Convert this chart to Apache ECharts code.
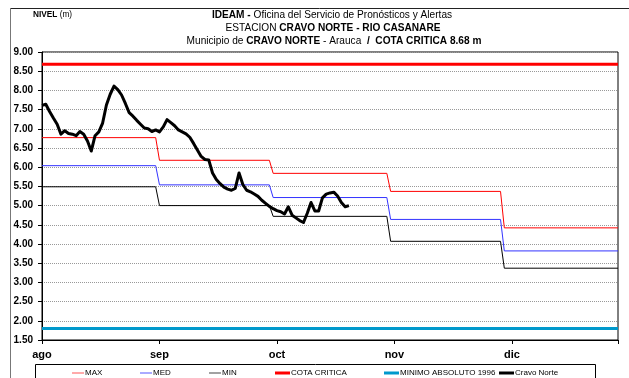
<!DOCTYPE html>
<html>
<head>
<meta charset="utf-8">
<script src="https://cdn.jsdelivr.net/npm/echarts@6/dist/echarts.min.js"></script>
<style>
html,body{margin:0;padding:0;background:#fff;}
#chart{width:629px;height:378px;}
</style>
</head>
<body>
<div id="chart"></div>
<script>
// Month axis: ticks every 31 days counted from 1 August
const monthLabels = ['ago', 'sep', 'oct', 'nov', 'dic'];
const monthStart = [0, 31, 61, 92, 122];
const monthEnd = [30, 60, 91, 121, 152];

// Monthly reference levels (m)
const nivelMax = [6.77, 6.18, 5.84, 5.37, 4.42];
const nivelMed = [6.04, 5.54, 5.21, 4.64, 3.82];
const nivelMin = [5.49, 5.00, 4.72, 4.07, 3.37];

const cotaCritica = 8.68;
const minimoAbsoluto = 1.80;

// Daily level at Cravo Norte, starting 1 August (m)
const cravoNorte = [
  7.61, 7.64, 7.45, 7.28, 7.12, 6.86, 6.95, 6.88, 6.86, 6.82,
  6.93, 6.86, 6.68, 6.42, 6.82, 6.92, 7.15, 7.62, 7.90, 8.11,
  8.02, 7.88, 7.66, 7.42, 7.33, 7.22, 7.12, 7.02, 7.00, 6.93,
  6.97, 6.92, 7.05, 7.24, 7.16, 7.08, 6.97, 6.92, 6.87, 6.78,
  6.62, 6.45, 6.28, 6.20, 6.19, 5.85, 5.68, 5.57, 5.48, 5.43,
  5.40, 5.45, 5.85, 5.55, 5.40, 5.36, 5.30, 5.24, 5.14, 5.06,
  4.98, 4.92, 4.87, 4.84, 4.78, 4.97, 4.75, 4.68, 4.61, 4.56,
  4.80, 5.08, 4.86, 4.86, 5.20, 5.30, 5.33, 5.35, 5.25, 5.08,
  4.97, 5.00
];

const axisDays = [0, 152];

function monthlySteps(levels) {
  const pts = [];
  levels.forEach(function (v, i) {
    pts.push([monthStart[i], v]);
    pts.push([monthEnd[i], v]);
  });
  return pts;
}

const sans = '"Liberation Sans", Arial, sans-serif';

const chart = echarts.init(document.getElementById('chart'), null, {renderer: 'canvas'});

function legendItem(name, left, width, thick, color) {
  return {
    data: [{name: name, icon: 'rect', itemStyle: {color: color, borderWidth: 0}}],
    left: left,
    top: 369,
    itemWidth: width,
    itemHeight: thick,
    selectedMode: false,
    textStyle: {fontFamily: sans, fontSize: 8, color: '#000', padding: [0, 0, 0, -4]},
    padding: 0
  };
}

function titleLine(text, x, y, rich) {
  return {
    type: 'text', x: x, y: y, scaleX: 0.88,
    style: {
      text: text, font: '11.5px ' + sans, fill: '#000',
      align: 'center', verticalAlign: 'middle', rich: rich
    }
  };
}

const boldRich = {b: {fontWeight: 'bold', fontFamily: sans, fontSize: 11.5}};

chart.setOption({
  animation: false,
  backgroundColor: '#fff',
  grid: {
    left: 42, right: 11, top: 52, bottom: 38,
    show: true, borderColor: '#000', borderWidth: 1
  },
  legend: [
    legendItem('MAX', 72, 12, 1, '#ff5555'),
    legendItem('MED', 140, 12, 1, '#5555ff'),
    legendItem('MIN', 209, 12, 1, '#444'),
    legendItem('COTA CRITICA', 275, 15, 3, '#ff0000'),
    legendItem('MINIMO ABSOLUTO 1996', 384, 15, 3, '#0099cc'),
    legendItem('Cravo Norte', 499, 15, 3, '#000')
  ],
  graphic: [
    {type: 'line', shape: {x1: 10, y1: 8.5, x2: 629, y2: 8.5}, style: {stroke: '#222', lineWidth: 1}},
    {type: 'line', shape: {x1: 10.5, y1: 8, x2: 10.5, y2: 378}, style: {stroke: '#777', lineWidth: 1}},
    {type: 'rect', shape: {x: 35.5, y: 364.5, width: 560, height: 30}, style: {fill: 'none', stroke: '#000', lineWidth: 1}},
    {
      type: 'text', x: 33, y: 15, scaleX: 0.92,
      style: {
        text: '{b|NIVEL} (m)', font: '9px ' + sans, fill: '#000',
        verticalAlign: 'middle',
        rich: {b: {fontWeight: 'bold', fontFamily: sans, fontSize: 9}}
      }
    },
    titleLine('{b|IDEAM -} Oficina del Servicio de Pronósticos y Alertas', 332, 15, boldRich),
    titleLine('ESTACION {b|CRAVO NORTE - RIO CASANARE}', 333, 28, boldRich),
    titleLine('Municipio de {b|CRAVO NORTE} - Arauca  {b|/}  {r|COTA CRITICA 8.68 m}', 334, 41, {
      b: {fontWeight: 'bold', fontFamily: sans, fontSize: 11.5},
      r: {fontWeight: 'bold', fontFamily: sans, fontSize: 11.5, color: '#ff0000'}
    })
  ],
  xAxis: {
    type: 'value',
    min: axisDays[0], max: axisDays[1], interval: 31,
    axisLine: {lineStyle: {color: '#000', width: 1}},
    axisTick: {show: true, length: 4, lineStyle: {color: '#000'}},
    axisLabel: {
      margin: 9,
      color: '#000', fontFamily: sans, fontWeight: 'bold', fontSize: 11,
      formatter: function (v) {
        const i = Math.round(v / 31);
        return (v % 31 === 0 && i < monthLabels.length) ? monthLabels[i] : '';
      }
    },
    splitLine: {show: false}
  },
  yAxis: {
    type: 'value',
    min: 1.5, max: 9, interval: 0.5,
    axisLine: {show: true, lineStyle: {color: '#000', width: 1}},
    axisTick: {show: true, length: 4, lineStyle: {color: '#000'}},
    axisLabel: {
      margin: 9, color: '#000', fontFamily: sans, fontWeight: 'bold', fontSize: 10,
      formatter: function (v) { return v.toFixed(2); }
    },
    splitLine: {show: true, lineStyle: {color: '#999', width: 1, type: [1, 1]}}
  },
  series: [
    {
      name: 'MAX', type: 'line', data: monthlySteps(nivelMax),
      symbol: 'none', lineStyle: {color: '#ff0000', width: 1}, itemStyle: {color: '#ff0000'}, z: 3
    },
    {
      name: 'MED', type: 'line', data: monthlySteps(nivelMed),
      symbol: 'none', lineStyle: {color: '#3333ff', width: 1}, itemStyle: {color: '#3333ff'}, z: 3
    },
    {
      name: 'MIN', type: 'line', data: monthlySteps(nivelMin),
      symbol: 'none', lineStyle: {color: '#000', width: 1}, itemStyle: {color: '#000'}, z: 3
    },
    {
      name: 'COTA CRITICA', type: 'line',
      data: axisDays.map(function (d) { return [d, cotaCritica]; }),
      symbol: 'none', lineStyle: {color: '#ff0000', width: 3}, itemStyle: {color: '#ff0000'}, z: 4
    },
    {
      name: 'MINIMO ABSOLUTO 1996', type: 'line',
      data: axisDays.map(function (d) { return [d, minimoAbsoluto]; }),
      symbol: 'none', lineStyle: {color: '#0099cc', width: 3}, itemStyle: {color: '#0099cc'}, z: 4
    },
    {
      name: 'Cravo Norte', type: 'line',
      data: cravoNorte.map(function (v, i) { return [i, v]; }),
      symbol: 'none', lineStyle: {color: '#000', width: 3, join: 'round'}, itemStyle: {color: '#000'}, z: 5
    }
  ]
});
</script>
</body>
</html>
